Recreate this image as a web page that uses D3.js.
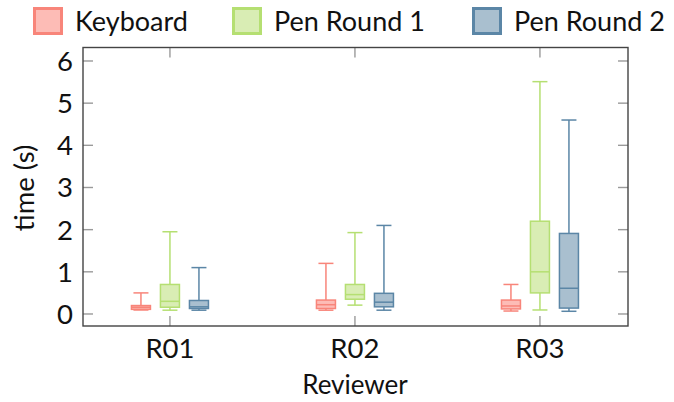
<!DOCTYPE html>
<html>
<head>
<meta charset="utf-8">
<script src="https://cdn.jsdelivr.net/npm/d3@7"></script>
<style>
  html, body { margin: 0; padding: 0; background: #fff; }
  svg text { font-family: "Lato", "Liberation Sans", sans-serif; fill: #111; }
</style>
</head>
<body>
<svg id="chart" width="674" height="402"></svg>
<script>
// Reviewers along the x axis
const categories = ["R01", "R02", "R03"];
const seriesNames = ["Keyboard", "Pen Round 1", "Pen Round 2"];

// Box statistics per series, one entry per reviewer (seconds)
const keyboardLow    = [0.095, 0.09, 0.07];
const keyboardQ1     = [0.11, 0.13, 0.12];
const keyboardMedian = [0.16, 0.22, 0.19];
const keyboardQ3     = [0.20, 0.33, 0.33];
const keyboardHigh   = [0.50, 1.20, 0.70];

const pen1Low    = [0.09, 0.21, 0.095];
const pen1Q1     = [0.16, 0.35, 0.50];
const pen1Median = [0.30, 0.46, 1.00];
const pen1Q3     = [0.70, 0.70, 2.20];
const pen1High   = [1.95, 1.93, 5.51];

const pen2Low    = [0.09, 0.09, 0.064];
const pen2Q1     = [0.13, 0.17, 0.14];
const pen2Median = [0.17, 0.28, 0.61];
const pen2Q3     = [0.32, 0.49, 1.91];
const pen2High   = [1.10, 2.10, 4.60];

const yTicks = [0, 1, 2, 3, 4, 5, 6];

const strokes = ["#f8857a", "#b5df72", "#5b86a6"];
const fills   = ["#fdbcb6", "#d9edb4", "#a9bfcf"];

const seriesStats = [
  [keyboardLow, keyboardQ1, keyboardMedian, keyboardQ3, keyboardHigh],
  [pen1Low, pen1Q1, pen1Median, pen1Q3, pen1High],
  [pen2Low, pen2Q1, pen2Median, pen2Q3, pen2High]
];

const svg = d3.select("#chart");
const frame = { left: 83, right: 628, top: 47.5, bottom: 326 };

// Category positions 1..n on a linear scale with padding either side
const x = d3.scaleLinear().domain([0.53, 3.476]).range([frame.left, frame.right]);
const y = d3.scaleLinear().domain([-0.285, 6.32]).range([frame.bottom, frame.top]);

const offset = 29;   // px between boxes of a group
const boxW = 19;
const capW = 15;

// Tick marks on all four sides, pointing inward
const tickLen = 10;
const ticks = svg.append("g").attr("stroke", "#9a9a9a").attr("stroke-width", 1.4);
yTicks.forEach(t => {
  ticks.append("line").attr("x1", frame.left).attr("x2", frame.left + tickLen)
    .attr("y1", y(t)).attr("y2", y(t));
  ticks.append("line").attr("x1", frame.right).attr("x2", frame.right - tickLen)
    .attr("y1", y(t)).attr("y2", y(t));
});
categories.forEach((c, i) => {
  ticks.append("line").attr("x1", x(i + 1)).attr("x2", x(i + 1))
    .attr("y1", frame.bottom).attr("y2", frame.bottom - tickLen);
  ticks.append("line").attr("x1", x(i + 1)).attr("x2", x(i + 1))
    .attr("y1", frame.top).attr("y2", frame.top + tickLen);
});

// Box plots
const plots = svg.append("g");
seriesStats.forEach((stats, s) => {
  const [lo, q1, med, q3, hi] = stats;
  const g = plots.append("g").attr("stroke", strokes[s]).attr("stroke-width", 1.5);
  categories.forEach((c, i) => {
    const cx = x(i + 1) + (s - 1) * offset;
    // whiskers
    g.append("line").attr("x1", cx).attr("x2", cx).attr("y1", y(hi[i])).attr("y2", y(q3[i]));
    g.append("line").attr("x1", cx).attr("x2", cx).attr("y1", y(q1[i])).attr("y2", y(lo[i]));
    g.append("line").attr("x1", cx - capW / 2).attr("x2", cx + capW / 2)
      .attr("y1", y(hi[i])).attr("y2", y(hi[i]));
    g.append("line").attr("x1", cx - capW / 2).attr("x2", cx + capW / 2)
      .attr("y1", y(lo[i])).attr("y2", y(lo[i]));
    // box
    g.append("rect").attr("x", cx - boxW / 2).attr("width", boxW)
      .attr("y", y(q3[i])).attr("height", y(q1[i]) - y(q3[i]))
      .attr("fill", fills[s]);
    // median
    g.append("line").attr("x1", cx - boxW / 2).attr("x2", cx + boxW / 2)
      .attr("y1", y(med[i])).attr("y2", y(med[i]));
  });
});

// Frame
svg.append("rect").attr("x", frame.left).attr("y", frame.top)
  .attr("width", frame.right - frame.left).attr("height", frame.bottom - frame.top)
  .attr("fill", "none").attr("stroke", "#444").attr("stroke-width", 1.4);

// Tick labels
const labels = svg.append("g").attr("font-size", 27.5);
yTicks.forEach(t => {
  labels.append("text").attr("x", 73).attr("y", y(t)).attr("dy", "0.36em")
    .attr("text-anchor", "end").text(d3.format("d")(t));
});
categories.forEach((c, i) => {
  labels.append("text").attr("x", x(i + 1)).attr("y", 358)
    .attr("text-anchor", "middle").text(c);
});

// Axis titles
svg.append("text").attr("x", 355).attr("y", 394).attr("text-anchor", "middle")
  .attr("font-size", 26).text("Reviewer");
svg.append("text").attr("transform", "translate(34,188) rotate(-90)")
  .attr("text-anchor", "middle").attr("font-size", 27.5).text("time (s)");

// Legend
const legendX = [33, 232, 472];
const legend = svg.append("g");
seriesNames.forEach((name, s) => {
  legend.append("rect").attr("x", legendX[s] + 1.5).attr("y", 8.5)
    .attr("width", 27).attr("height", 25)
    .attr("fill", fills[s]).attr("stroke", strokes[s]).attr("stroke-width", 3);
  legend.append("text").attr("x", legendX[s] + 42).attr("y", 30.5)
    .attr("font-size", 27).text(name);
});
</script>
</body>
</html>
